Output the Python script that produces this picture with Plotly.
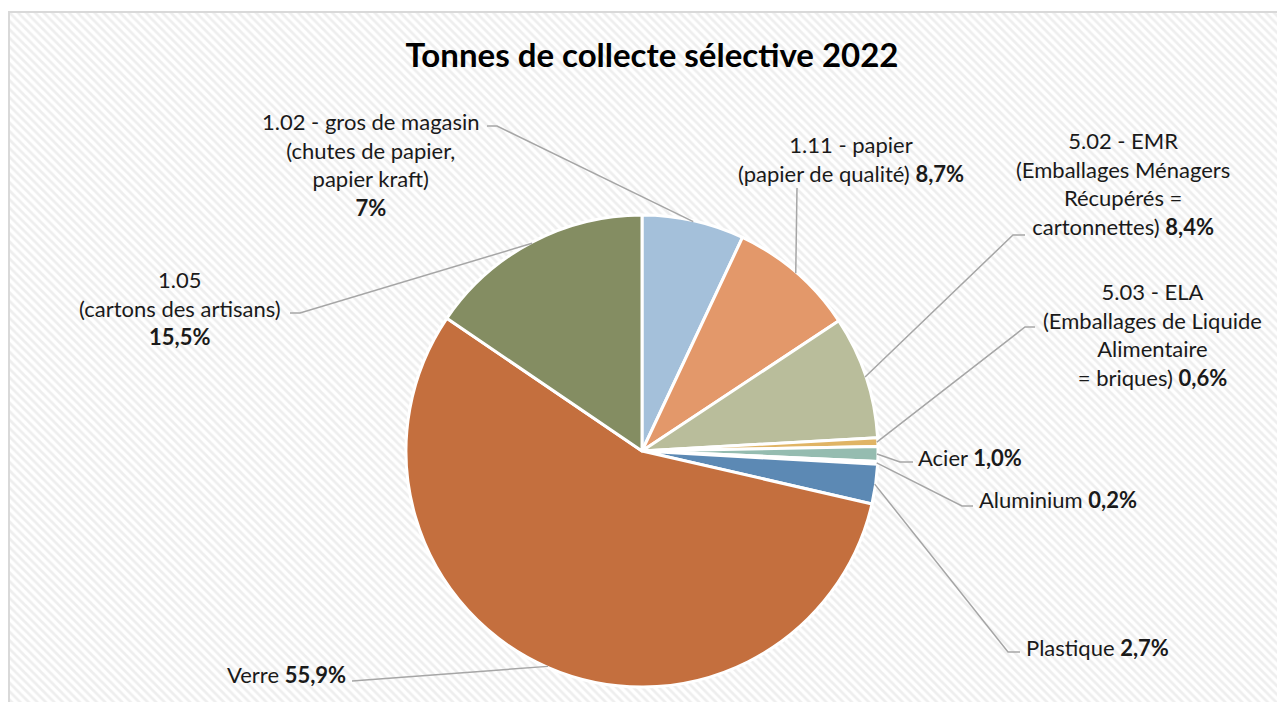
import math
import plotly.graph_objects as go

# ---------------- data ----------------
categories = [
    "1.02 - gros de magasin (chutes de papier, papier kraft)",
    "1.11 - papier (papier de qualité)",
    "5.02 - EMR (Emballages Ménagers Récupérés = cartonnettes)",
    "5.03 - ELA (Emballages de Liquide Alimentaire = briques)",
    "Acier",
    "Aluminium",
    "Plastique",
    "Verre",
    "1.05 (cartons des artisans)",
]
values = [7.0, 8.7, 8.4, 0.6, 1.0, 0.2, 2.7, 55.9, 15.5]
pct_labels = ["7%", "8,7%", "8,4%", "0,6%", "1,0%", "0,2%", "2,7%", "55,9%", "15,5%"]
label_text = [
    "1.02 - gros de magasin<br>(chutes de papier,<br>papier kraft)<br><b>{p}</b>",
    "1.11 - papier<br>(papier de qualité) <b>{p}</b>",
    "5.02 - EMR<br>(Emballages Ménagers<br>Récupérés =<br>cartonnettes) <b>{p}</b>",
    "5.03 - ELA<br>(Emballages de Liquide<br>Alimentaire<br>= briques) <b>{p}</b>",
    "Acier <b>{p}</b>",
    "Aluminium <b>{p}</b>",
    "Plastique <b>{p}</b>",
    "Verre <b>{p}</b>",
    "1.05<br>(cartons des artisans)<br><b>{p}</b>",
]
colors = ["#a4c0da", "#e3986a", "#b9bd9b", "#e0b465", "#95bcb0",
          "#a9b7c6", "#5c89b4", "#c46f3e", "#848d62"]

# ---------------- layout (screen pixels) ----------------
OFF = 8                      # page body margin
W, H = 1285 - OFF, 702 - OFF
CX, CY, R = 642, 451, 236
FONT = "Lato"

# label anchor: (x, y, xanchor)
label_pos = [
    (371, 165, "center"),
    (851, 159, "center"),
    (1123, 183, "center"),
    (1152, 335, "center"),
    (916, 457, "left"),
    (977, 499, "left"),
    (1024, 647, "left"),
    (348, 674, "right"),
    (180, 308, "center"),
]
# leader line start points (near the text), the slice end point is computed
leader_start = [
    [(487, 126), (497, 126)],
    [(797, 188)],
    [(1025, 235), (1013, 235)],
    [(1035, 327), (1025, 327)],
    [(913, 462), (900, 462)],
    [(973, 506), (962, 506)],
    [(1020, 652), (1008, 652)],
    [(352, 681)],
    [(290, 313), (300, 313)],
]


def px(x):
    return (x - OFF) / W


def py(y):
    return 1 - (y - OFF) / H


fig = go.Figure()

# hatched background via patterned bar
fig.add_trace(go.Bar(
    x=[0], y=[1], width=[1],
    marker=dict(color="white", line=dict(width=0),
                pattern=dict(shape="\\", fgcolor="#dedede", bgcolor="white",
                             size=6, solidity=0.45)),
    hoverinfo="skip", showlegend=False,
))

fig.add_trace(go.Pie(
    labels=categories, values=values, sort=False, direction="clockwise",
    rotation=0, textinfo="none", hoverinfo="label+percent",
    marker=dict(colors=colors, line=dict(color="white", width=3)),
    domain=dict(x=[px(CX - R), px(CX + R)], y=[py(CY + R), py(CY - R)]),
    showlegend=False,
))

# leader lines and labels
total = sum(values)
cum = 0.0
shapes = []
annotations = []
for i, v in enumerate(values):
    mid = (cum + v / 2) / total * 2 * math.pi
    cum += v
    ex = CX + (R - 1) * math.sin(mid)
    ey = CY - (R - 1) * math.cos(mid)
    pts = leader_start[i] + [(ex, ey)]
    path = "M " + " L ".join(f"{px(a):.5f},{py(b):.5f}" for a, b in pts)
    shapes.append(dict(type="path", path=path, xref="paper", yref="paper",
                       line=dict(color="#a6a6a6", width=1.5)))
    lx, ly, anc = label_pos[i]
    annotations.append(dict(
        x=px(lx), y=py(ly), xref="paper", yref="paper", showarrow=False,
        xanchor=anc, yanchor="middle", align="center" if anc == "center" else anc,
        text=label_text[i].format(p=pct_labels[i]),
        font=dict(family=FONT, size=22, color="#1a1a1a"),
    ))

# chart border (extends past the right/bottom edges like the reference)
shapes.append(dict(type="rect", xref="paper", yref="paper",
                   x0=px(9), x1=1.02, y0=-0.02, y1=py(12),
                   line=dict(color="#d9d9d9", width=2), fillcolor="rgba(0,0,0,0)"))

fig.update_layout(
    width=W, height=H,
    margin=dict(l=0, r=0, t=0, b=0),
    paper_bgcolor="white", plot_bgcolor="rgba(0,0,0,0)",
    xaxis=dict(domain=[px(9), 1.0], range=[-0.5, 0.5], visible=False, fixedrange=True),
    yaxis=dict(domain=[0.0, py(12)], range=[0, 1], visible=False, fixedrange=True),
    bargap=0,
    title=dict(text="<b>Tonnes de collecte sélective 2022</b>",
               x=px(652), y=py(55), xanchor="center", yanchor="middle",
               font=dict(family=FONT, size=33, color="#000000")),
    shapes=shapes, annotations=annotations,
)

fig.write_html("out.html")
